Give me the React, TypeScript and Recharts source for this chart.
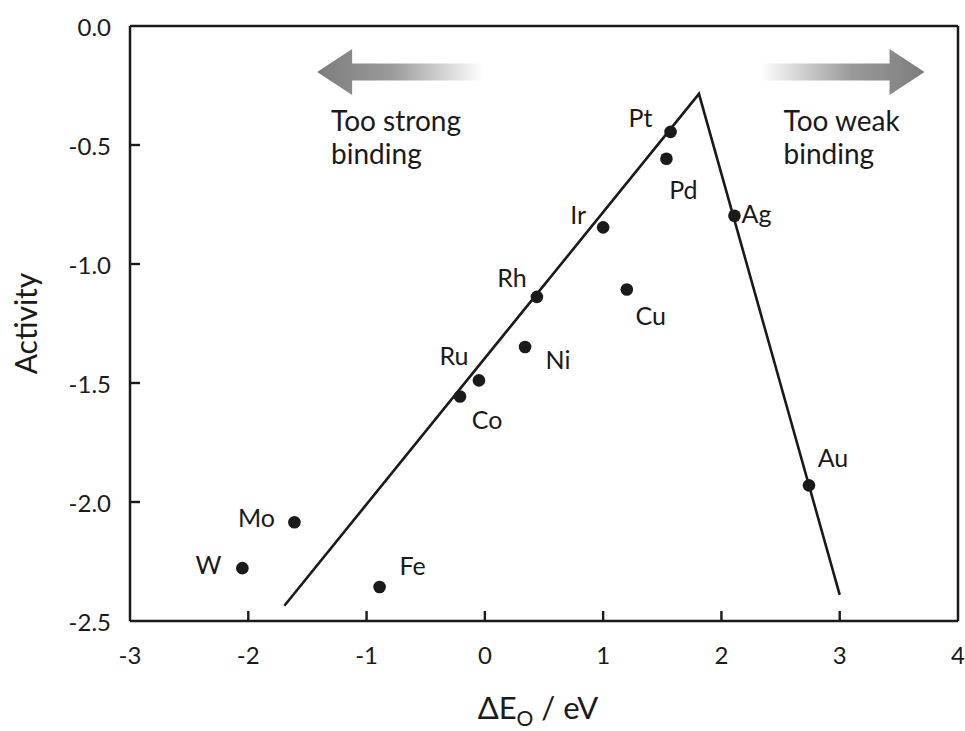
import React from 'react';
import {
  ScatterChart,
  Scatter,
  XAxis,
  YAxis,
  ReferenceLine,
  ReferenceDot,
  Label,
} from 'recharts';

// Oxygen binding energy (eV) vs. log activity for each metal
const metals = ['Pt', 'Pd', 'Ir', 'Ag', 'Rh', 'Cu', 'Ni', 'Ru', 'Co', 'Au', 'Mo', 'W', 'Fe'];
const bindingEnergy = [1.57, 1.535, 1.0, 2.11, 0.44, 1.2, 0.34, -0.05, -0.21, 2.74, -1.61, -2.05, -0.89];
const activity = [-0.445, -0.558, -0.846, -0.797, -1.138, -1.107, -1.349, -1.489, -1.557, -1.93, -2.085, -2.278, -2.357];

// Volcano trend line: strong-binding leg, apex, weak-binding leg
const volcanoX = [-1.695, 1.81, 3.0];
const volcanoY = [-2.436, -0.285, -2.39];

const xTicks = [-3, -2, -1, 0, 1, 2, 3, 4];
const yTicks = [0, -0.5, -1.0, -1.5, -2.0, -2.5];

const X_MIN = -3;
const X_MAX = 4;
const Y_MIN = -2.5;
const Y_MAX = 0;

const points = metals.map((name, i) => ({ name, x: bindingEnergy[i], y: activity[i] }));
const volcano = volcanoX.map((x, i) => ({ x, y: volcanoY[i] }));

// Anchor points for the inward tick marks along the bottom and left frame edges
const xTickMarks = xTicks
  .filter((t) => t !== X_MIN && t !== X_MAX)
  .map((t) => ({ x: t, y: Y_MIN, dir: 'up' }));
const yTickMarks = yTicks
  .filter((t) => t !== Y_MIN && t !== Y_MAX)
  .map((t) => ({ x: X_MIN, y: t, dir: 'right' }));
const tickMarks = [...xTickMarks, ...yTickMarks];

// Label placement around each marker (pixels, text centre relative to dot)
const labelOffset: Record<string, [number, number]> = {
  Pt: [-30, -15],
  Pd: [17, 30],
  Ir: [-25, -13],
  Ag: [22, -3],
  Rh: [-25, -20],
  Cu: [24, 26],
  Ni: [33, 12],
  Ru: [-25, -25],
  Co: [27, 22],
  Au: [24, -28],
  Mo: [-38, -5],
  W: [-34, -4],
  Fe: [33, -22],
};

const FONT = 'Lato, "Open Sans", sans-serif';
const INK = '#1a1a1a';
const TICK_LEN = 10;
const TICK_W = 2.4;

const MetalDot = (props: any) => {
  const { cx, cy, payload } = props;
  const [dx, dy] = labelOffset[payload.name] || [20, 0];
  return (
    <g>
      <circle cx={cx} cy={cy} r={6.3} fill={INK} />
      <text
        x={cx + dx}
        y={cy + dy}
        textAnchor="middle"
        dominantBaseline="central"
        fontSize={25}
        fontFamily={FONT}
        fill={INK}
      >
        {payload.name}
      </text>
    </g>
  );
};

const TickMark = (props: any) => {
  const { cx, cy, payload } = props;
  if (payload.dir === 'up') {
    return <rect x={cx - TICK_W / 2} y={cy - TICK_LEN} width={TICK_W} height={TICK_LEN} fill={INK} />;
  }
  return <rect x={cx} y={cy - TICK_W / 2} width={TICK_LEN} height={TICK_W} fill={INK} />;
};

const XTickLabel = (props: any) => {
  const { x, y, payload } = props;
  return (
    <text x={x} y={y + 41} textAnchor="middle" fontSize={24} fontFamily={FONT} fill={INK}>
      {payload.value}
    </text>
  );
};

const YTickLabel = (props: any) => {
  const { x, y, payload } = props;
  return (
    <text
      x={x - 17}
      y={y}
      textAnchor="end"
      dominantBaseline="central"
      fontSize={24}
      fontFamily={FONT}
      fill={INK}
    >
      {Number(payload.value).toFixed(1)}
    </text>
  );
};

const LeftArrow = (props: any) => {
  const { cx, cy } = props;
  // tip at (cx, cy), pointing left
  const d = `M${cx},${cy} L${cx + 35},${cy - 23} L${cx + 35},${cy - 8.5} L${cx + 166},${cy - 8.5} L${cx + 166},${cy + 8.5} L${cx + 35},${cy + 8.5} L${cx + 35},${cy + 23} Z`;
  return <path d={d} fill="url(#fadeLeft)" />;
};

const RightArrow = (props: any) => {
  const { cx, cy } = props;
  // tip at (cx, cy), pointing right
  const d = `M${cx},${cy} L${cx - 35},${cy - 23} L${cx - 35},${cy - 8.5} L${cx - 164},${cy - 8.5} L${cx - 164},${cy + 8.5} L${cx - 35},${cy + 8.5} L${cx - 35},${cy + 23} Z`;
  return <path d={d} fill="url(#fadeRight)" />;
};

const Caption = (lines: string[]) => (props: any) => {
  const { cx, cy } = props;
  return (
    <text x={cx} y={cy} fontSize={28} fontFamily={FONT} fill={INK}>
      {lines.map((l, i) => (
        <tspan key={l} x={cx} dy={i === 0 ? 0 : 33}>
          {l}
        </tspan>
      ))}
    </text>
  );
};

const XTitle = (props: any) => {
  const { viewBox } = props;
  const x = viewBox.x + viewBox.width / 2 - 6;
  const y = viewBox.y + 98;
  return (
    <text x={x} y={y} textAnchor="middle" fontSize={31} fontFamily={FONT} fill={INK}>
      ΔE
      <tspan dy={7} fontSize={21}>
        O
      </tspan>
      <tspan dy={-7}> / eV</tspan>
    </text>
  );
};

const YTitle = (props: any) => {
  const { viewBox } = props;
  const x = 37;
  const y = viewBox.y + viewBox.height / 2;
  return (
    <text
      x={x}
      y={y}
      textAnchor="middle"
      fontSize={30}
      fontFamily={FONT}
      fill={INK}
      transform={`rotate(-90, ${x}, ${y})`}
    >
      Activity
    </text>
  );
};

const frameLine = { stroke: INK, strokeWidth: 2.5 };

export default function App() {
  return (
    <div style={{ position: 'absolute', left: 0, top: 0, background: '#fff' }}>
      <ScatterChart width={965} height={731} margin={{ top: 26, right: 7, left: 0, bottom: 0 }}>
        <defs>
          <linearGradient id="fadeLeft" x1="0" y1="0" x2="1" y2="0">
            <stop offset="0%" stopColor="#7d7d7d" />
            <stop offset="45%" stopColor="#9a9a9a" />
            <stop offset="100%" stopColor="#ffffff" />
          </linearGradient>
          <linearGradient id="fadeRight" x1="0" y1="0" x2="1" y2="0">
            <stop offset="0%" stopColor="#ffffff" />
            <stop offset="55%" stopColor="#9a9a9a" />
            <stop offset="100%" stopColor="#7d7d7d" />
          </linearGradient>
        </defs>
        <XAxis
          type="number"
          dataKey="x"
          domain={[X_MIN, X_MAX]}
          ticks={xTicks}
          allowDataOverflow
          height={110}
          tickSize={0}
          tickLine={false}
          tick={<XTickLabel />}
          axisLine={frameLine}
        >
          <Label content={<XTitle />} />
        </XAxis>
        <YAxis
          type="number"
          dataKey="y"
          domain={[Y_MIN, Y_MAX]}
          ticks={yTicks}
          allowDataOverflow
          width={130}
          tickSize={0}
          tickLine={false}
          tick={<YTickLabel />}
          axisLine={frameLine}
        >
          <Label content={<YTitle />} />
        </YAxis>
        {/* top and right edges of the frame */}
        <ReferenceLine y={Y_MAX} stroke={INK} strokeWidth={2.5} ifOverflow="visible" />
        <ReferenceLine x={X_MAX} stroke={INK} strokeWidth={2.5} ifOverflow="visible" />
        <ReferenceDot x={-1.418} y={-0.193} shape={LeftArrow} />
        <ReferenceDot x={3.717} y={-0.193} shape={RightArrow} />
        <ReferenceDot x={-1.3} y={-0.44} shape={Caption(['Too strong', 'binding'])} />
        <ReferenceDot x={2.525} y={-0.44} shape={Caption(['Too weak', 'binding'])} />
        <Scatter data={tickMarks} shape={TickMark} isAnimationActive={false} />
        <Scatter
          data={volcano}
          line={{ stroke: INK, strokeWidth: 2.6 }}
          shape={() => <g />}
          isAnimationActive={false}
        />
        <Scatter data={points} shape={MetalDot} isAnimationActive={false} />
      </ScatterChart>
    </div>
  );
}
